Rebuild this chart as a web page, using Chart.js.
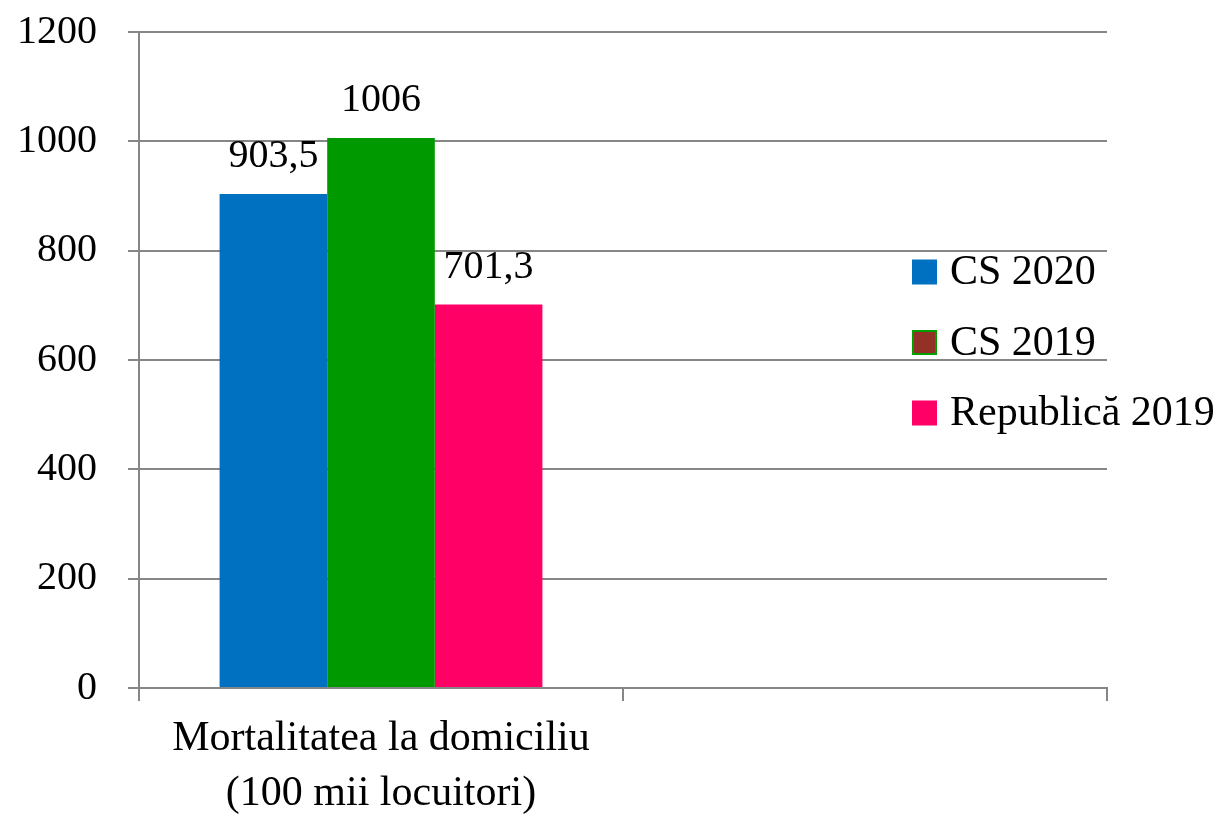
<!DOCTYPE html>
<html>
<head>
<meta charset="utf-8">
<script src="https://cdn.jsdelivr.net/npm/chart.js@4"></script>
<style>
html,body{margin:0;padding:0;background:#fff;}
canvas{display:block;}
</style>
</head>
<body>
<canvas id="c" width="1228" height="817"></canvas>
<script>
const categories = [["Mortalitatea la domiciliu", "(100 mii locuitori)"], ""];
const seriesNames = ["CS 2020", "CS 2019", "Republică 2019"];
const cs2020 = [903.5, null];
const cs2019 = [1006, null];
const republica2019 = [701.3, null];
const yTicks = [0, 200, 400, 600, 800, 1000, 1200];

const FONT = "'Liberation Serif', 'Times New Roman', serif";
const GRID = '#868686';

const valueLabels = {
  id: 'valueLabels',
  afterDatasetsDraw(chart) {
    const ctx = chart.ctx;
    ctx.save();
    ctx.font = '40px ' + FONT;
    ctx.fillStyle = '#000';
    ctx.textAlign = 'center';
    ctx.textBaseline = 'alphabetic';
    chart.data.datasets.forEach((ds, i) => {
      const meta = chart.getDatasetMeta(i);
      meta.data.forEach((bar, j) => {
        const v = ds.data[j];
        if (v === null || v === undefined) return;
        ctx.fillText(String(v).replace('.', ','), bar.x, bar.y - 27);
      });
    });
    ctx.restore();
  }
};

const sideLegend = {
  id: 'sideLegend',
  afterDraw(chart) {
    const ctx = chart.ctx;
    const items = [
      {fill: '#0070C0', stroke: null},
      {fill: '#943126', stroke: '#00A000'},
      {fill: '#FF0066', stroke: null}
    ];
    ctx.save();
    ctx.font = '42px ' + FONT;
    ctx.textAlign = 'left';
    ctx.textBaseline = 'middle';
    items.forEach((it, i) => {
      const cy = 272 + i * 70.5;
      ctx.fillStyle = it.fill;
      ctx.fillRect(912, cy - 12.5, 25, 25);
      if (it.stroke) {
        ctx.strokeStyle = it.stroke;
        ctx.lineWidth = 2;
        ctx.strokeRect(913, cy - 11.5, 23, 23);
      }
      ctx.fillStyle = '#000';
      ctx.fillText(seriesNames[i], 950, cy + 1);
    });
    ctx.restore();
  }
};

new Chart(document.getElementById('c'), {
  type: 'bar',
  data: {
    labels: categories,
    datasets: [
      {label: seriesNames[0], data: cs2020, backgroundColor: '#0070C0'},
      {label: seriesNames[1], data: cs2019, backgroundColor: '#009900'},
      {label: seriesNames[2], data: republica2019, backgroundColor: '#FF0066'}
    ]
  },
  options: {
    responsive: false,
    animation: false,
    layout: {padding: {left: 0, top: 32, right: 121, bottom: 0}},
    datasets: {bar: {categoryPercentage: 0.667, barPercentage: 1.0}},
    plugins: {
      legend: {display: false},
      tooltip: {enabled: false}
    },
    scales: {
      x: {
        offset: true,
        grid: {offset: true, drawOnChartArea: false, drawTicks: true, tickLength: 13, color: GRID, lineWidth: 2},
        border: {display: true, color: GRID, width: 2},
        ticks: {font: {family: FONT, size: 42, lineHeight: 1.3}, color: '#000', padding: 11, maxRotation: 0, autoSkip: false},
        afterFit(s) { s.height = 129; }
      },
      y: {
        min: 0,
        max: 1200,
        afterBuildTicks(s) { s.ticks = yTicks.map(v => ({value: v})); },
        grid: {color: GRID, lineWidth: 2, tickLength: 11, drawTicks: true},
        border: {display: true, color: GRID, width: 2},
        ticks: {font: {family: FONT, size: 40}, color: '#000', padding: 31, callback: (v) => String(v)},
        afterFit(s) { s.width = 139; s.paddingTop = 0; s.paddingBottom = 0; }
      }
    }
  },
  plugins: [valueLabels, sideLegend]
});
</script>
</body>
</html>
